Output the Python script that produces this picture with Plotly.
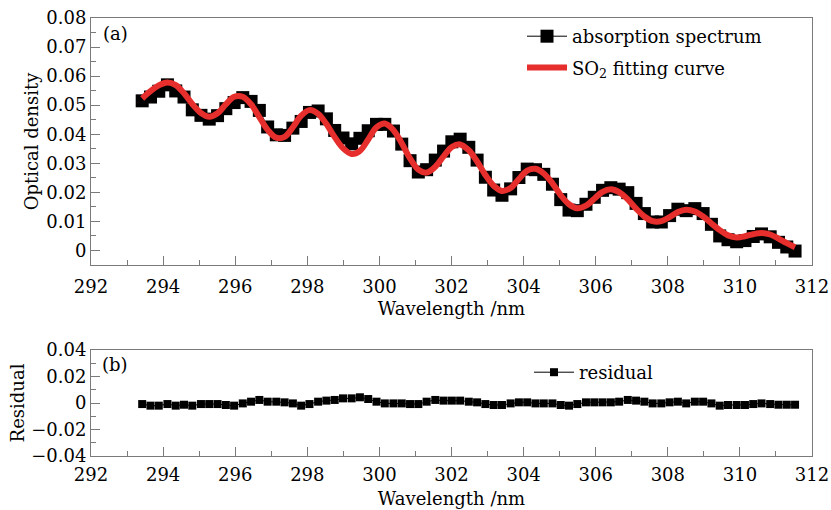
import plotly.graph_objects as go

wavelength = [293.42, 293.65, 293.88, 294.12, 294.35, 294.58, 294.81, 295.05, 295.28, 295.51,
              295.74, 295.97, 296.21, 296.44, 296.67, 296.90, 297.14, 297.37, 297.60, 297.83,
              298.06, 298.30, 298.53, 298.76, 298.99, 299.23, 299.46, 299.69, 299.92, 300.15,
              300.39, 300.62, 300.85, 301.08, 301.31, 301.55, 301.78, 302.01, 302.24, 302.48,
              302.71, 302.94, 303.17, 303.40, 303.64, 303.87, 304.10, 304.33, 304.56, 304.80,
              305.03, 305.26, 305.49, 305.73, 305.96, 306.19, 306.42, 306.65, 306.89, 307.12,
              307.35, 307.58, 307.82, 308.05, 308.28, 308.51, 308.75, 308.98, 309.21, 309.44,
              309.67, 309.91, 310.14, 310.37, 310.60, 310.84, 311.07, 311.30, 311.53]

absorption = [0.0515, 0.0528, 0.0548, 0.0570, 0.0549, 0.0528, 0.0484, 0.0465, 0.0452, 0.0464,
              0.0488, 0.0509, 0.0526, 0.0513, 0.0482, 0.0425, 0.0398, 0.0396, 0.0421, 0.0444,
              0.0475, 0.0480, 0.0453, 0.0413, 0.0387, 0.0367, 0.0386, 0.0412, 0.0434, 0.0434,
              0.0411, 0.0366, 0.0309, 0.0270, 0.0278, 0.0311, 0.0342, 0.0374, 0.0383, 0.0355,
              0.0311, 0.0252, 0.0208, 0.0190, 0.0212, 0.0251, 0.0280, 0.0278, 0.0262, 0.0228,
              0.0175, 0.0139, 0.0137, 0.0159, 0.0183, 0.0207, 0.0216, 0.0211, 0.0199, 0.0162,
              0.0127, 0.0098, 0.0098, 0.0120, 0.0142, 0.0137, 0.0144, 0.0127, 0.0090, 0.0050,
              0.0037, 0.0030, 0.0034, 0.0048, 0.0057, 0.0047, 0.0028, 0.0012, -0.0002]

so2_fit = [0.0523, 0.0548, 0.0568, 0.0578, 0.0569, 0.0541, 0.0504, 0.0473, 0.0460, 0.0472,
           0.0503, 0.0529, 0.0529, 0.0503, 0.0459, 0.0415, 0.0388, 0.0391, 0.0424, 0.0464,
           0.0483, 0.0470, 0.0435, 0.0390, 0.0352, 0.0332, 0.0343, 0.0382, 0.0424, 0.0437,
           0.0414, 0.0369, 0.0317, 0.0278, 0.0268, 0.0288, 0.0324, 0.0356, 0.0365, 0.0345,
           0.0306, 0.0260, 0.0223, 0.0205, 0.0215, 0.0246, 0.0275, 0.0281, 0.0265, 0.0231,
           0.0190, 0.0159, 0.0145, 0.0154, 0.0178, 0.0202, 0.0211, 0.0201, 0.0176, 0.0144,
           0.0117, 0.0101, 0.0101, 0.0115, 0.0132, 0.0140, 0.0134, 0.0117, 0.0093, 0.0070,
           0.0052, 0.0045, 0.0049, 0.0056, 0.0060, 0.0055, 0.0041, 0.0025, 0.0011]

residual = [-0.0008, -0.0020, -0.0020, -0.0008, -0.0020, -0.0013, -0.0020, -0.0008, -0.0008, -0.0008,
            -0.0015, -0.0020, -0.0003, 0.0010, 0.0023, 0.0010, 0.0010, 0.0005, -0.0003, -0.0020,
            -0.0008, 0.0010, 0.0018, 0.0023, 0.0035, 0.0035, 0.0043, 0.0030, 0.0010, -0.0003,
            -0.0003, -0.0003, -0.0008, -0.0008, 0.0010, 0.0023, 0.0018, 0.0018, 0.0018, 0.0010,
            0.0005, -0.0008, -0.0015, -0.0015, -0.0003, 0.0005, 0.0005, -0.0003, -0.0003, -0.0003,
            -0.0015, -0.0020, -0.0008, 0.0005, 0.0005, 0.0005, 0.0005, 0.0010, 0.0023, 0.0018,
            0.0010, -0.0003, -0.0003, 0.0005, 0.0010, -0.0003, 0.0010, 0.0010, -0.0003, -0.0020,
            -0.0015, -0.0015, -0.0015, -0.0008, -0.0003, -0.0008, -0.0013, -0.0013, -0.0013]

FONT = "DejaVu Serif"
FS = 18
AX = "#7a7a7a"
W, H = 831, 510
L, R, T, B = 91, 19, 18, 54
PW, PH = W - L - R, H - T - B


def px(xp):
    return (xp - L) / PW


def py(yp):
    return (H - B - yp) / PH


fig = go.Figure()

fig.add_trace(go.Scatter(
    x=wavelength, y=absorption, mode="lines+markers", name="absorption spectrum",
    line=dict(color="black", width=1),
    marker=dict(symbol="square", size=13, color="black"),
    xaxis="x", yaxis="y", legend="legend", legendgroup="a"))

fig.add_trace(go.Scatter(
    x=wavelength, y=so2_fit, mode="lines", name="SO<sub>2</sub> fitting curve",
    line=dict(color="#e62e2d", width=6, shape="spline"),
    xaxis="x", yaxis="y", legend="legend", legendgroup="b"))

fig.add_trace(go.Scatter(
    x=wavelength, y=residual, mode="lines+markers", name="residual",
    line=dict(color="black", width=1),
    marker=dict(symbol="square", size=8, color="black"),
    xaxis="x2", yaxis="y2", legend="legend2"))

axis_common = dict(
    showline=True, linecolor=AX, linewidth=1, mirror=True,
    ticks="inside", ticklen=9, tickcolor=AX, tickwidth=1,
    showgrid=False, zeroline=False,
    tickfont=dict(family=FONT, size=FS, color="black"),
)

fig.update_layout(
    width=W, height=H,
    margin=dict(l=L, r=R, t=T, b=B, autoexpand=False),
    paper_bgcolor="white", plot_bgcolor="white",
    font=dict(family=FONT, size=FS, color="black"),
    xaxis=dict(domain=[0, 1], anchor="y", range=[292, 312], dtick=2, tick0=292,
               minor=dict(ticks="inside", ticklen=5, dtick=1, tickcolor=AX),
               ticklabelstandoff=5,
               title=dict(text="Wavelength /nm", font=dict(family=FONT, size=FS), standoff=6),
               **axis_common),
    yaxis=dict(domain=[py(265), 1], anchor="x", range=[-0.005, 0.08], dtick=0.01, tick0=0,
               minor=dict(ticks="inside", ticklen=5, dtick=0.005, tickcolor=AX),
               title=dict(text="Optical density", font=dict(family=FONT, size=FS), standoff=3),
               **axis_common),
    xaxis2=dict(domain=[0, 1], anchor="y2", range=[292, 312], dtick=2, tick0=292,
                minor=dict(ticks="inside", ticklen=5, dtick=1, tickcolor=AX),
                ticklabelstandoff=2,
                title=dict(text="Wavelength /nm", font=dict(family=FONT, size=FS), standoff=8),
                **axis_common),
    yaxis2=dict(domain=[0, py(350)], anchor="x2", range=[-0.04, 0.04], dtick=0.02, tick0=0,
                minor=dict(ticks="inside", ticklen=5, dtick=0.01, tickcolor=AX),
                title=dict(text="Residual", font=dict(family=FONT, size=FS), standoff=1),
                **axis_common),
    legend=dict(x=px(522), y=py(18), xanchor="left", yanchor="top",
                bgcolor="rgba(0,0,0,0)", font=dict(family=FONT, size=FS),
                tracegroupgap=5, traceorder="grouped", itemwidth=40),
    legend2=dict(x=px(529), y=py(354), xanchor="left", yanchor="top",
                 bgcolor="rgba(0,0,0,0)", font=dict(family=FONT, size=FS), itemwidth=40),
    annotations=[
        dict(text="(a)", xref="paper", yref="paper", x=px(115), y=py(33),
             xanchor="center", yanchor="middle",
             showarrow=False, font=dict(family=FONT, size=FS)),
        dict(text="(b)", xref="paper", yref="paper", x=px(115), y=py(364),
             xanchor="center", yanchor="middle",
             showarrow=False, font=dict(family=FONT, size=FS)),
    ],
    showlegend=True,
)

fig.write_html("out.html")
